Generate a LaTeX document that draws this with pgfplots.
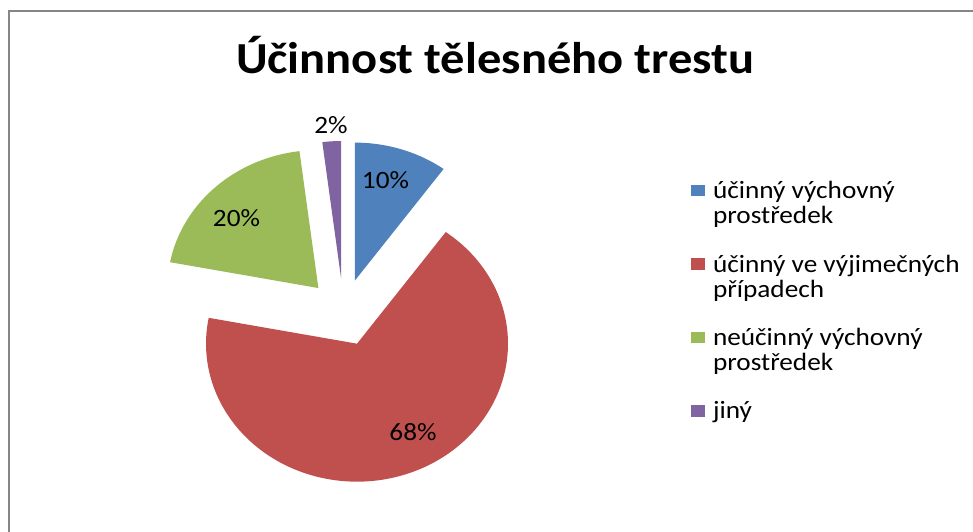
\documentclass[border=0pt]{standalone}
\usepackage{pgfplots}
\pgfplotsset{compat=1.18}
\usepackage{fontspec}
\setmainfont{Carlito}
\usepackage{graphicx}

\definecolor{sBlue}{RGB}{79,129,189}
\definecolor{sRed}{RGB}{192,80,77}
\definecolor{sGreen}{RGB}{155,187,89}
\definecolor{sPurple}{RGB}{128,100,162}
\definecolor{frameGray}{RGB}{134,134,134}

% pie geometry (image pixels): centre, radii, explosion
\def\cx{343.5}\def\cy{312.5}\def\rx{151}\def\ry{138}\def\ex{0.243}
% #1 cumulative start (%), #2 value (%), #3 colour
\newcommand\pieslice[3]{%
  \pgfmathsetmacro\aS{90-3.6*(#1)}%
  \pgfmathsetmacro\aE{90-3.6*((#1)+(#2))}%
  \pgfmathsetmacro\aM{(\aS+\aE)/2}%
  \pgfmathsetmacro\ox{\cx+\ex*\rx*cos(\aM)}%
  \pgfmathsetmacro\oy{\cy-\ex*\ry*sin(\aM)}%
  \edef\doslice{\noexpand\addplot[fill=#3,draw=none,domain=\aE:\aS,samples=120,variable=\noexpand\t]
    ({\ox+\rx*cos(\noexpand\t)},{\oy-\ry*sin(\noexpand\t)}) -- (axis cs:\ox,\oy) -- cycle;}%
  \doslice
}
\newcommand\sx[1]{\scalebox{1.094}[1]{#1}}
\newcommand\topS{\rule{0pt}{20bp}}
\newcommand\botS{\rule[-8bp]{0pt}{8bp}}
\newcommand\lt[1]{\sx{\parbox[t]{250bp}{#1}}}

\begin{document}
\begin{tikzpicture}
\begin{axis}[
  width=973bp, height=532bp, scale only axis,
  xmin=0, xmax=973, ymin=0, ymax=532, y dir=reverse,
  hide axis,
  legend style={at={(axis description cs:0.7102,0.6641)}, anchor=north west,
    draw=none, fill=none, inner sep=0pt, outer sep=0pt,
    row sep=20.5bp, column sep=8bp,
    nodes={inner sep=0pt, text depth=, text height=},
    cells={anchor=base west},
    font=\fontsize{25}{25}\selectfont},
  legend image code/.code={\fill[#1] (0bp,2.4bp) rectangle (14bp,14bp);},
]
\addplot[frameGray, line width=2.4bp, forget plot] coordinates {(8.7,560) (8.7,11) (1000,11)};

\pieslice{0}{10}{sBlue}
\addlegendentry{\lt{\topS účinný výchovný\newline prostředek\botS}}
\pieslice{10}{68}{sRed}
\addlegendentry{\lt{\topS účinný ve výjimečných\newline případech\botS}}
\pieslice{78}{20}{sGreen}
\addlegendentry{\lt{\topS neúčinný výchovný\newline prostředek\botS}}
\pieslice{98}{2}{sPurple}
\addlegendentry{\lt{\topS jiný\botS}}

\node[anchor=base, inner sep=0pt, font=\fontsize{44.5}{50}\selectfont\bfseries] at (axis cs:495,73.3) {\sx{Účinnost tělesného trestu}};
\node[inner sep=0pt, font=\fontsize{25}{28}\selectfont] at (axis cs:385.5,180) {\sx{10\%}};
\node[inner sep=0pt, font=\fontsize{25}{28}\selectfont] at (axis cs:413,432) {\sx{68\%}};
\node[inner sep=0pt, font=\fontsize{25}{28}\selectfont] at (axis cs:236.5,218.5) {\sx{20\%}};
\node[inner sep=0pt, font=\fontsize{25}{28}\selectfont] at (axis cs:331,125) {\sx{2\%}};
\end{axis}
\pgfresetboundingbox
\path (current axis.south west) rectangle (current axis.north east);
\end{tikzpicture}
\end{document}
